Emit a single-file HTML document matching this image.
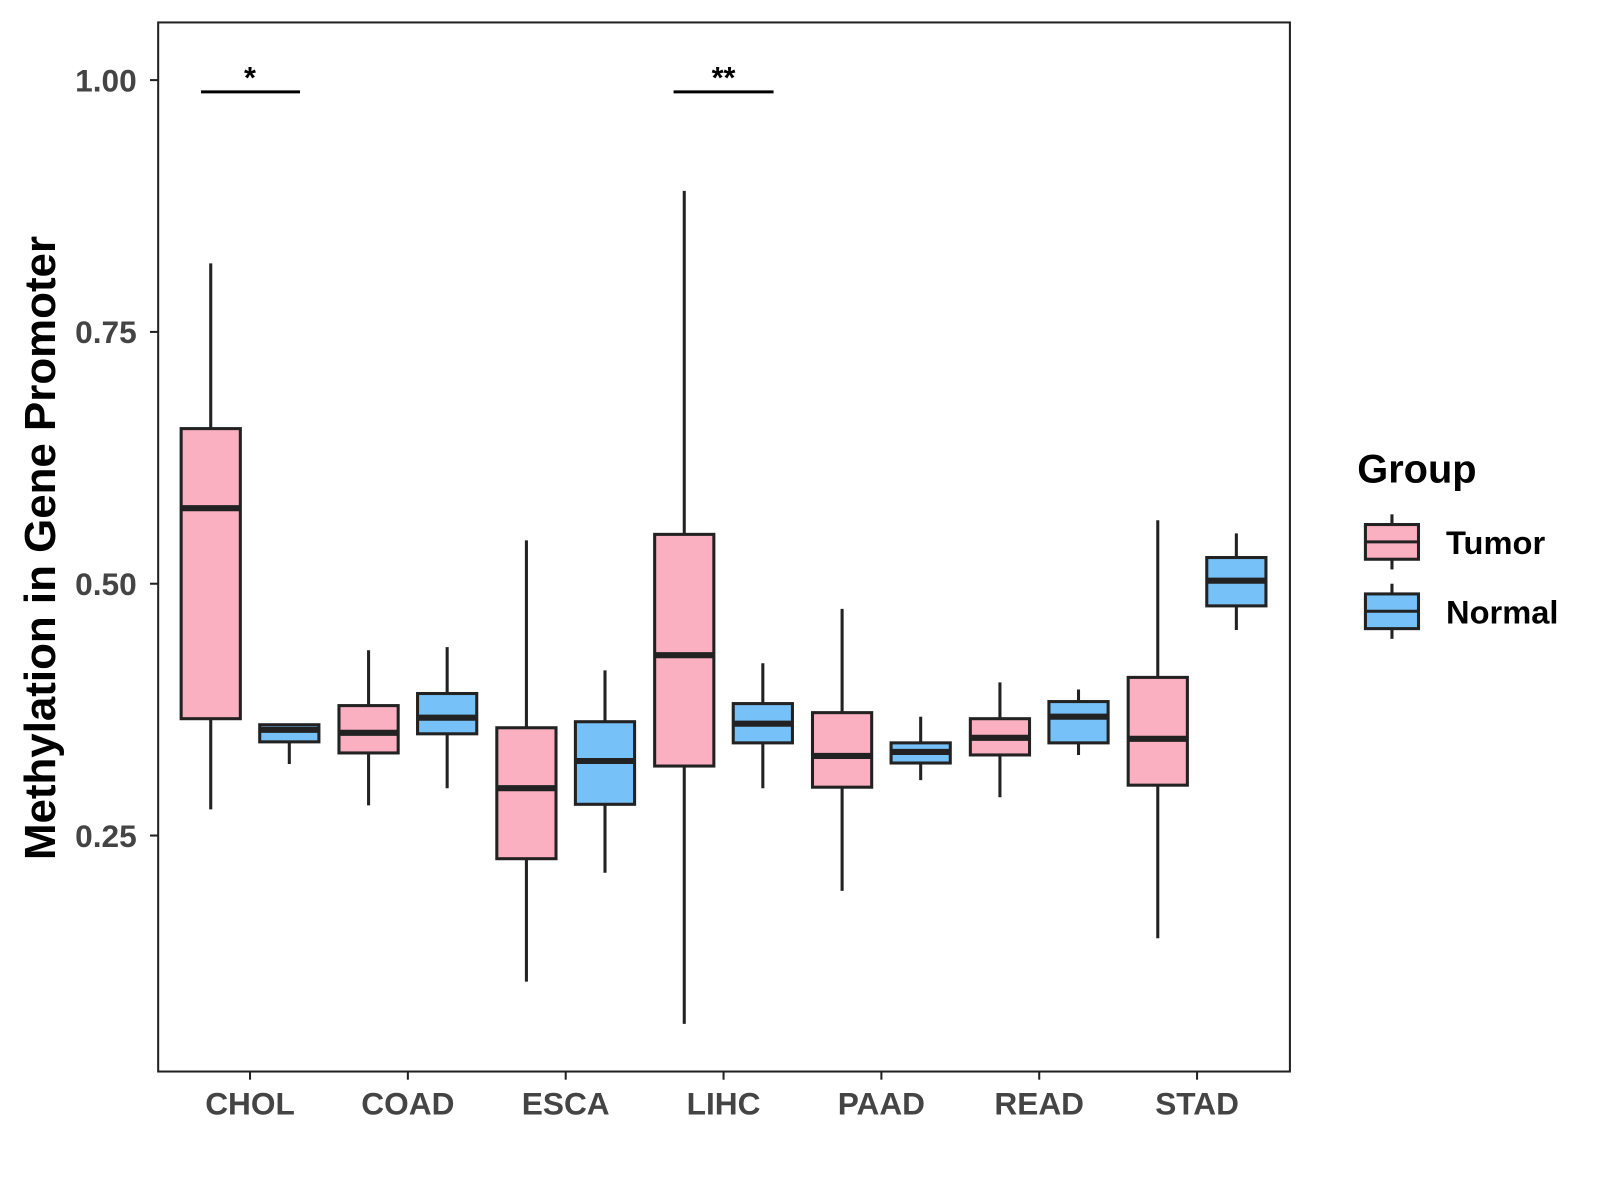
<!DOCTYPE html>
<html><head><meta charset="utf-8"><style>
html,body{margin:0;padding:0;background:#fff;}
svg{display:block;font-family:"Liberation Sans",Arial,sans-serif;}
</style></head><body>
<svg id="chart" width="1600" height="1200" viewBox="0 0 1600 1200">
<g transform="scale(1.0205)">
<rect x="155" y="22" width="1109" height="1028" fill="#fff" stroke="#222" stroke-width="2"/>
<g id="yaxis"></g>
<g id="xaxis"></g>
<g id="boxes"></g>
<g>
<line x1="197" y1="90" x2="294" y2="90" stroke="#000" stroke-width="3"/>
<text x="245" y="86" text-anchor="middle" font-size="30" font-weight="bold">*</text>
</g>
<g>
<line x1="660" y1="90" x2="758" y2="90" stroke="#000" stroke-width="3"/>
<text x="709" y="86" text-anchor="middle" font-size="30" font-weight="bold">**</text>
</g>
<text transform="translate(54,537) rotate(-90)" text-anchor="middle" font-size="43" font-weight="bold" fill="#000">Methylation in Gene Promoter</text>
<g>
<text x="1330" y="473" font-size="39" font-weight="bold">Group</text>
<g>
<line x1="1364" y1="504" x2="1364" y2="558" stroke="#222" stroke-width="3"/>
<rect x="1338" y="514" width="52" height="34" fill="#fbb0c1" stroke="#222" stroke-width="3"/>
<line x1="1338" y1="531" x2="1390" y2="531" stroke="#222" stroke-width="3"/>
<text x="1417" y="543" font-size="32" font-weight="bold">Tumor</text>
</g>
<g>
<line x1="1364" y1="572" x2="1364" y2="626" stroke="#222" stroke-width="3"/>
<rect x="1338" y="582" width="52" height="34" fill="#76c1f7" stroke="#222" stroke-width="3"/>
<line x1="1338" y1="599" x2="1390" y2="599" stroke="#222" stroke-width="3"/>
<text x="1417" y="611" font-size="32" font-weight="bold">Normal</text>
</g>
</g>
</g>
</svg>
<script>
const categories = ["CHOL","COAD","ESCA","LIHC","PAAD","READ","STAD"];
const yTicks = [0.25,0.50,0.75,1.00];
const yTickLabels = ["0.25","0.50","0.75","1.00"];
// [whiskerLow, q1, median, q3, whiskerHigh]
const tumorStats = [
 [0.276,0.366,0.575,0.654,0.818],
 [0.280,0.332,0.352,0.379,0.434],
 [0.105,0.227,0.297,0.357,0.543],
 [0.063,0.319,0.429,0.549,0.890],
 [0.195,0.298,0.329,0.372,0.475],
 [0.288,0.330,0.347,0.366,0.402],
 [0.148,0.300,0.346,0.407,0.563]
];
const normalStats = [
 [0.321,0.343,0.355,0.360,0.360],
 [0.297,0.351,0.367,0.391,0.437],
 [0.213,0.281,0.324,0.363,0.414],
 [0.297,0.342,0.361,0.381,0.421],
 [0.305,0.322,0.333,0.342,0.368],
 [0.330,0.342,0.368,0.383,0.395],
 [0.454,0.478,0.503,0.526,0.550]
];
const NS="http://www.w3.org/2000/svg";
const y = v => 572 - (v-0.5)*987;
const x = i => 245 + i*154.67;
function mk(tag, attrs, parent){const e=document.createElementNS(NS,tag);for(const k in attrs)e.setAttribute(k,attrs[k]);parent.appendChild(e);return e;}
const ya=document.getElementById('yaxis');
yTicks.forEach((v,i)=>{
 const t=mk('line',{x1:147,x2:155,y1:y(v),y2:y(v),stroke:'#222','stroke-width':2},ya);
 
 
 const l=mk('text',{x:134,y:y(v)+11,'text-anchor':'end','font-size':31,'font-weight':'bold',fill:'#444'},ya);
 l.textContent=yTickLabels[i];
 
 
});
const xa=document.getElementById('xaxis');
categories.forEach((c,i)=>{
 const t=mk('line',{x1:x(i),x2:x(i),y1:1050,y2:1058,stroke:'#222','stroke-width':2},xa);
 
 
 const l=mk('text',{x:x(i),y:1092,'text-anchor':'middle','font-size':31,'font-weight':'bold',fill:'#444'},xa);
 l.textContent=c;
 
 
});
const bg=document.getElementById('boxes');
function drawBox(s,cx,fill,name){
 const g=mk('g',{},bg);
 
 
 mk('line',{x1:cx,x2:cx,y1:y(s[4]),y2:y(s[0]),stroke:'#222','stroke-width':3},g);
 mk('rect',{x:cx-29,y:y(s[3]),width:58,height:y(s[1])-y(s[3]),fill:fill,stroke:'#222','stroke-width':3},g);
 mk('line',{x1:cx-29,x2:cx+29,y1:y(s[2]),y2:y(s[2]),stroke:'#222','stroke-width':6},g);
}
categories.forEach((c,i)=>{
 drawBox(tumorStats[i],x(i)-38.5,'#fbb0c1','box-tumor-'+c.toLowerCase());
 drawBox(normalStats[i],x(i)+38.5,'#76c1f7','box-normal-'+c.toLowerCase());
});
</script>
</body></html>
